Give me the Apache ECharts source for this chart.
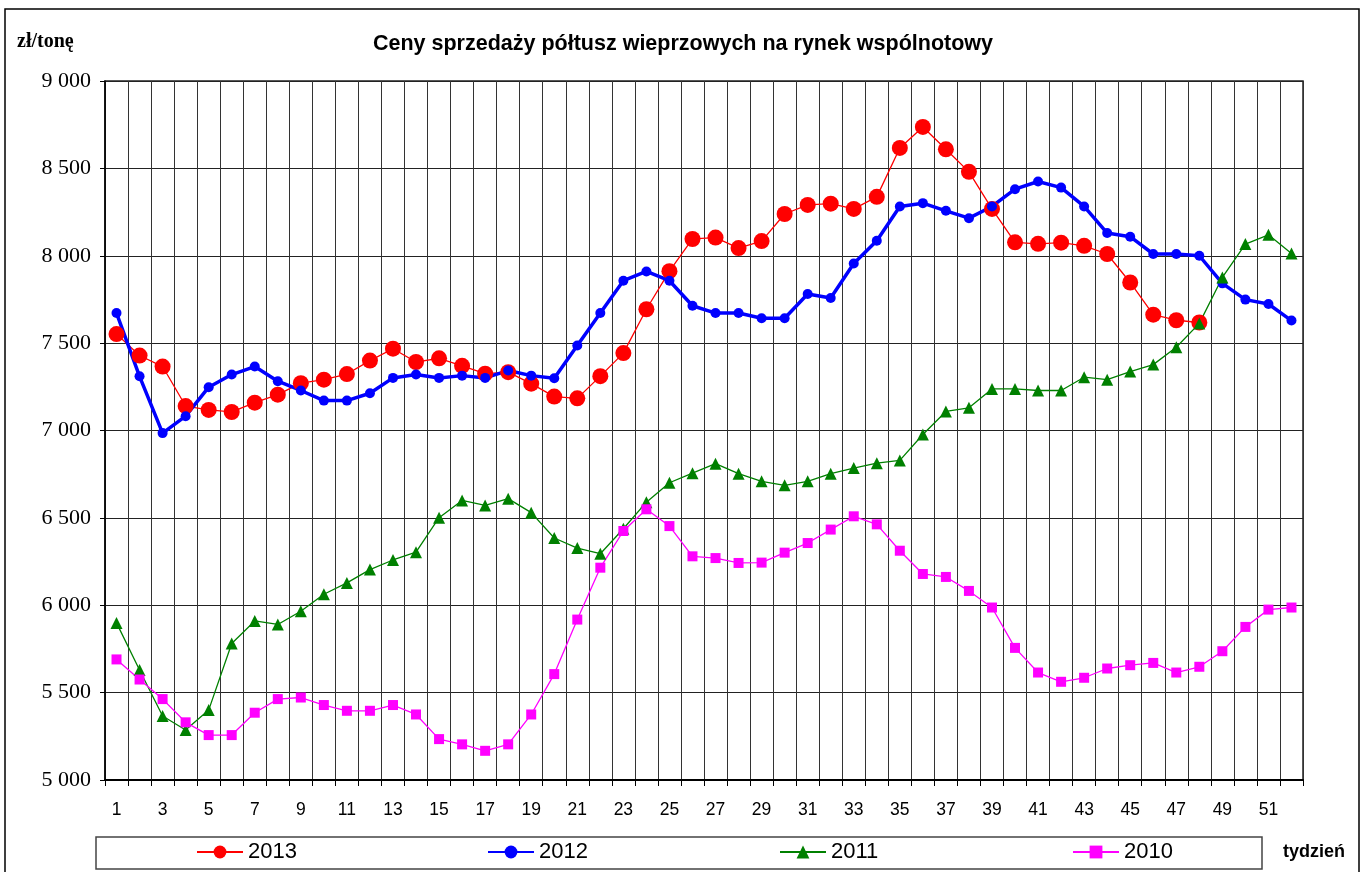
<!DOCTYPE html>
<html>
<head>
<meta charset="utf-8">
<script src="https://cdn.jsdelivr.net/npm/echarts@6/dist/echarts.min.js"></script>
<style>
  html, body { margin: 0; padding: 0; background: #fff; }
  #wykres { width: 1366px; height: 872px; }
</style>
</head>
<body>
<div id="wykres"></div>
<script>
// tygodnie roku
const tygodnie = ['1','2','3','4','5','6','7','8','9','10','11','12','13','14','15','16','17','18','19','20',
  '21','22','23','24','25','26','27','28','29','30','31','32','33','34','35','36','37','38','39','40',
  '41','42','43','44','45','46','47','48','49','50','51','52'];

// ceny zl/tone
const ceny2013 = [7552,7429,7366,7140,7118,7106,7159,7205,7271,7291,7323,7400,7468,7392,7413,7370,7325,7334,7268,7194,
  7184,7311,7443,7694,7912,8096,8104,8044,8084,8239,8291,8298,8268,8337,8617,8737,8609,8480,8268,8077,
  8068,8075,8057,8010,7847,7663,7631,7618,null,null,null,null];
const ceny2012 = [7672,7310,6985,7082,7248,7320,7366,7282,7229,7171,7171,7213,7301,7320,7301,7314,7301,7343,7314,7299,
  7486,7672,7857,7910,7857,7714,7672,7672,7642,7642,7781,7758,7956,8086,8282,8301,8257,8215,8282,8381,
  8425,8390,8282,8130,8109,8010,8010,8000,7842,7749,7724,7629];
const ceny2011 = [5899,5629,5366,5286,5400,5781,5910,5890,5966,6063,6128,6204,6259,6304,6501,6600,6571,6610,6530,6385,
  6327,6295,6438,6590,6701,6756,6810,6753,6709,6686,6709,6753,6785,6813,6829,6977,7109,7130,7238,7238,
  7229,7229,7305,7291,7337,7377,7476,7613,7876,8067,8120,8013];
const ceny2010 = [5690,5575,5463,5330,5257,5257,5385,5463,5472,5429,5396,5396,5429,5375,5234,5204,5167,5204,5375,5606,
  5918,6215,6425,6549,6453,6280,6270,6242,6244,6301,6356,6433,6509,6463,6312,6179,6162,6082,5987,5756,
  5615,5562,5585,5638,5657,5670,5615,5648,5737,5876,5975,5987];

const chartDom = document.getElementById('wykres');
const myChart = echarts.init(chartDom);

const sans = '"Liberation Sans", Arial, sans-serif';
const serif = '"Liberation Serif", "Times New Roman", serif';

// pozycje legend (osobno, zeby trzymac odstepy jak w oryginale)
const legendy = [
  { nazwa: '2013', left: 196 },
  { nazwa: '2012', left: 487 },
  { nazwa: '2011', left: 779 },
  { nazwa: '2010', left: 1072 }
];

const option = {
  animation: false,
  title: {
    text: 'Ceny sprzedaży półtusz wieprzowych na rynek wspólnotowy',
    left: 'center',
    top: 28,
    textStyle: { fontFamily: sans, fontWeight: 'bold', fontSize: 21.5, color: '#000' }
  },
  legend: legendy.map(l => ({
    data: [l.nazwa],
    left: l.left,
    top: 841,
    itemWidth: 46,
    itemHeight: 16,
    itemGap: 0,
    padding: 0,
    textStyle: { fontFamily: sans, fontSize: 22, color: '#000' }
  })),
  grid: {
    left: 105,
    right: 63,
    top: 81,
    bottom: 92,
    show: true,
    borderColor: '#222',
    borderWidth: 1.5,
    containLabel: false
  },
  xAxis: {
    type: 'category',
    data: tygodnie,
    boundaryGap: true,
    axisLine: { show: true, lineStyle: { color: '#000', width: 2 } },
    axisTick: { show: true, interval: 0, length: 6, lineStyle: { color: '#000' } },
    axisLabel: { interval: 1, margin: 21, fontFamily: sans, fontSize: 17.5, color: '#000' },
    splitLine: { show: true, interval: 0, lineStyle: { color: '#333', width: 1 } }
  },
  yAxis: {
    type: 'value',
    min: 5000,
    max: 9000,
    interval: 500,
    axisLine: { show: true, lineStyle: { color: '#000', width: 1.5 } },
    axisTick: { show: true, length: 5, lineStyle: { color: '#000' } },
    axisLabel: {
      margin: 14,
      fontFamily: serif,
      fontSize: 22,
      color: '#000',
      formatter: v => String(v).replace(/\B(?=(\d{3})+(?!\d))/g, ' ')
    },
    splitLine: { lineStyle: { color: '#222', width: 1 } }
  },
  series: [
    {
      name: '2013',
      type: 'line',
      data: ceny2013,
      symbol: 'circle',
      symbolSize: 16,
      showAllSymbol: true,
      lineStyle: { color: '#ff0000', width: 1.3 },
      itemStyle: { color: '#ff0000' }
    },
    {
      name: '2012',
      type: 'line',
      data: ceny2012,
      symbol: 'circle',
      symbolSize: 10,
      showAllSymbol: true,
      lineStyle: { color: '#0000ff', width: 3.5 },
      itemStyle: { color: '#0000ff' }
    },
    {
      name: '2011',
      type: 'line',
      data: ceny2011,
      symbol: 'triangle',
      symbolSize: 12,
      showAllSymbol: true,
      lineStyle: { color: '#008000', width: 1.3 },
      itemStyle: { color: '#008000' }
    },
    {
      name: '2010',
      type: 'line',
      data: ceny2010,
      symbol: 'rect',
      symbolSize: 10,
      showAllSymbol: true,
      lineStyle: { color: '#ff00ff', width: 1.3 },
      itemStyle: { color: '#ff00ff' }
    }
  ],
  graphic: [
    {
      type: 'rect',
      shape: { x: 5, y: 9, width: 1354, height: 880 },
      style: { fill: 'none', stroke: '#000', lineWidth: 1.5 },
      silent: true
    },
    {
      type: 'rect',
      shape: { x: 96, y: 837, width: 1166, height: 32 },
      style: { fill: 'none', stroke: '#444', lineWidth: 1.5 },
      silent: true
    },
    {
      type: 'text',
      left: 17,
      top: 32,
      style: { text: 'zł/tonę', font: 'bold 20px "Liberation Serif", serif', fill: '#000' }
    },
    {
      type: 'text',
      left: 1283,
      top: 843,
      style: { text: 'tydzień', font: 'bold 18px "Liberation Sans", Arial, sans-serif', fill: '#000' }
    }
  ]
};

myChart.setOption(option);
</script>
</body>
</html>
